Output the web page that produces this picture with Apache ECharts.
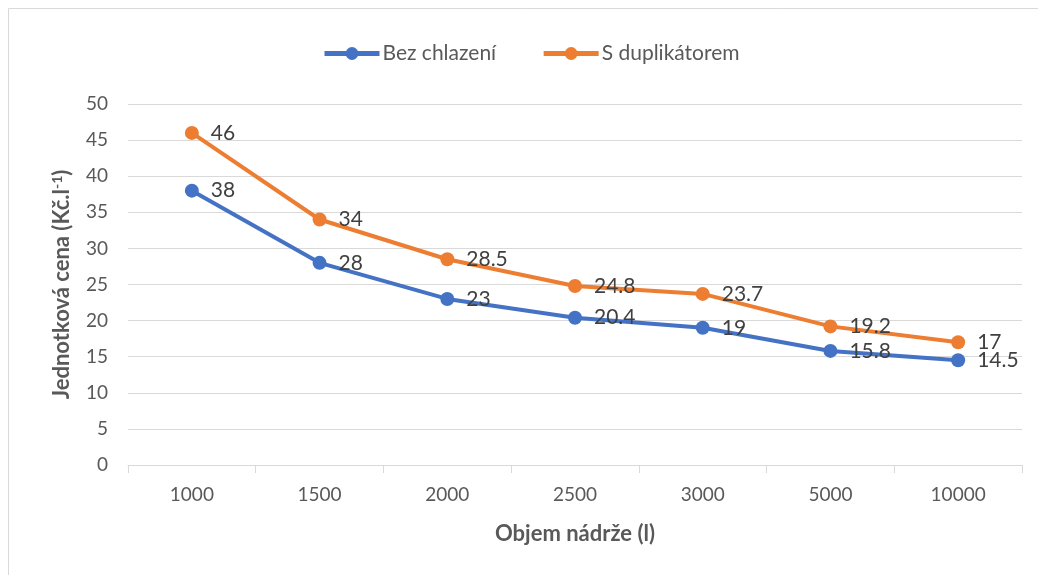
<!DOCTYPE html>
<html>
<head>
<meta charset="utf-8">
<script src="https://cdn.jsdelivr.net/npm/echarts@6/dist/echarts.min.js"></script>
<style>
  html, body { margin: 0; padding: 0; background: #fff; }
  #chart { width: 1038px; height: 575px; }
</style>
</head>
<body>
<div id="chart"></div>
<script>
const categories = ['1000', '1500', '2000', '2500', '3000', '5000', '10000'];
const bezChlazeni = [38, 28, 23, 20.4, 19, 15.8, 14.5];
const sDuplikatorem = [46, 34, 28.5, 24.8, 23.7, 19.2, 17];

const font = 'Lato, "Noto Sans", sans-serif';
const textColor = '#595959';

const chart = echarts.init(document.getElementById('chart'));

const lineSeries = (name, data, color) => ({
  name,
  type: 'line',
  data,
  symbol: 'circle',
  symbolSize: 14,
  lineStyle: { color, width: 4 },
  itemStyle: { color },
  label: {
    show: true,
    position: 'right',
    distance: 12,
    color: '#404040',
    fontSize: 21,
    fontFamily: font
  }
});

chart.setOption({
  animation: false,
  textStyle: { fontFamily: font },
  graphic: [{
    type: 'rect',
    shape: { x: 8.5, y: 8.5, width: 1040, height: 580 },
    style: { fill: 'none', stroke: '#d9d9d9', lineWidth: 1 }
  }],
  legend: {
    top: 38,
    left: 317,
    itemWidth: 55,
    itemHeight: 16,
    itemGap: 45,
    lineStyle: { width: 5 },
    textStyle: { color: textColor, fontSize: 21, fontFamily: font, padding: [0, 0, 0, -2] },
    data: ['Bez chlazení', 'S duplikátorem']
  },
  grid: { left: 128, right: 16, top: 104, bottom: 110 },
  xAxis: {
    type: 'category',
    data: categories,
    boundaryGap: true,
    name: 'Objem nádrže (l)',
    nameLocation: 'middle',
    nameGap: 58,
    nameTextStyle: { color: textColor, fontSize: 22, fontWeight: 'bold', fontFamily: font },
    axisLine: { lineStyle: { color: '#d9d9d9', width: 1 } },
    axisTick: { show: true, length: 8, lineStyle: { color: '#d9d9d9' } },
    axisLabel: { color: textColor, fontSize: 19, margin: 20, fontFamily: font }
  },
  yAxis: {
    type: 'value',
    min: 0,
    max: 50,
    interval: 5,
    name: '{n|Jednotková cena (Kč.l}{s|-1}{n|)}',
    nameLocation: 'middle',
    nameGap: 54,
    nameTextStyle: {
      rich: {
        n: { color: textColor, fontSize: 22, fontWeight: 'bold', fontFamily: font },
        s: { color: textColor, fontSize: 14, fontWeight: 'bold', fontFamily: font, verticalAlign: 'top', padding: [0, 0, 10, 0] }
      }
    },
    axisLine: { show: false },
    axisTick: { show: false },
    axisLabel: { color: textColor, fontSize: 19, margin: 20, fontFamily: font },
    splitLine: { lineStyle: { color: '#d9d9d9', width: 1 } }
  },
  series: [
    lineSeries('Bez chlazení', bezChlazeni, '#4472c4'),
    lineSeries('S duplikátorem', sDuplikatorem, '#ed7d31')
  ]
});
</script>
</body>
</html>
